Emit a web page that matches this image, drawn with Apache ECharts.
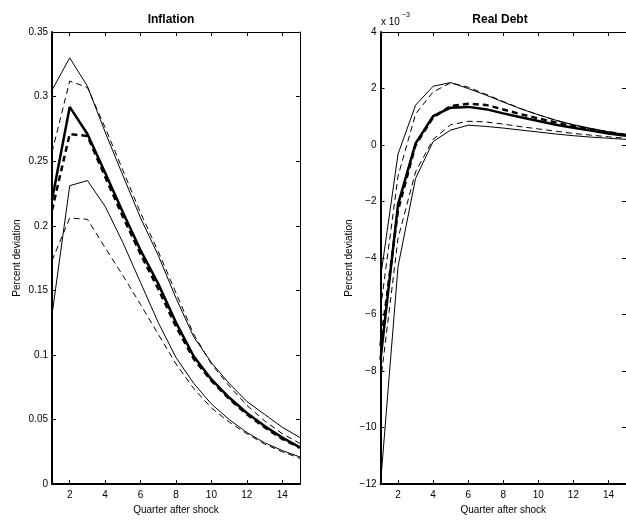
<!DOCTYPE html>
<html>
<head>
<meta charset="UTF-8">
<title>Inflation / Real Debt</title>
<script src="https://cdn.jsdelivr.net/npm/echarts@6/dist/echarts.min.js"></script>
<style>
  html, body { margin: 0; padding: 0; background: #fff; }
  #container { width: 626px; height: 520px; }
</style>
</head>
<body>
<div id="container"></div>
<script type="text/javascript">
// quarters after shock
var quarters = [1, 2, 3, 4, 5, 6, 7, 8, 9, 10, 11, 12, 13, 14, 15];
var xTicks = [2, 4, 6, 8, 10, 12, 14];

// Inflation, percent deviation
var inflMedian    = [0.220, 0.292, 0.271, 0.241, 0.2105, 0.181, 0.155, 0.125, 0.099, 0.081, 0.067, 0.055, 0.045, 0.036, 0.0285];
var inflMedianAlt = [0.212, 0.271, 0.2695, 0.238, 0.207, 0.178, 0.151, 0.122, 0.097, 0.080, 0.066, 0.054, 0.044, 0.035, 0.028];
var inflUpper     = [0.305, 0.330, 0.308, 0.2725, 0.239, 0.206, 0.177, 0.144, 0.114, 0.094, 0.078, 0.064, 0.054, 0.044, 0.036];
var inflUpperAlt  = [0.257, 0.312, 0.307, 0.276, 0.243, 0.210, 0.180, 0.148, 0.116, 0.093, 0.076, 0.061, 0.049, 0.039, 0.0315];
var inflLower     = [0.131, 0.231, 0.235, 0.215, 0.187, 0.156, 0.125, 0.098, 0.078, 0.062, 0.050, 0.040, 0.032, 0.026, 0.021];
var inflLowerAlt  = [0.173, 0.206, 0.205, 0.183, 0.1615, 0.139, 0.116, 0.093, 0.074, 0.059, 0.048, 0.039, 0.031, 0.025, 0.020];

// Real debt, percent deviation (units of 10^-3)
var debtMedian    = [-7.6, -2.1, 0.06, 1.02, 1.32, 1.35, 1.27, 1.12, 0.98, 0.85, 0.72, 0.61, 0.51, 0.41, 0.33];
var debtMedianAlt = [-7.1, -2.3, 0.0, 0.98, 1.38, 1.46, 1.42, 1.26, 1.09, 0.94, 0.80, 0.67, 0.55, 0.45, 0.36];
var debtUpper     = [-4.7, -0.32, 1.41, 2.08, 2.21, 2.0, 1.77, 1.52, 1.28, 1.07, 0.88, 0.72, 0.59, 0.47, 0.37];
var debtUpperAlt  = [-5.8, -1.1, 1.1, 1.88, 2.2, 2.05, 1.80, 1.54, 1.29, 1.07, 0.87, 0.71, 0.57, 0.46, 0.36];
var debtLower     = [-12.0, -4.3, -1.18, 0.12, 0.53, 0.70, 0.66, 0.60, 0.53, 0.46, 0.39, 0.33, 0.28, 0.24, 0.20];
var debtLowerAlt  = [-8.4, -3.3, -0.95, 0.2, 0.72, 0.84, 0.82, 0.74, 0.65, 0.57, 0.49, 0.41, 0.35, 0.29, 0.24];

var FONT = "'Liberation Sans', Arial, Helvetica, sans-serif";

function pairs(vals) {
	return quarters.map(function (q, i) { return [q, vals[i]]; });
}

function line(idx, vals, width, dashed) {
	return {
		type: 'line',
		xAxisIndex: idx * 2,
		yAxisIndex: idx * 2,
		data: pairs(vals),
		showSymbol: false,
		silent: true,
		lineStyle: { color: '#000', width: width, type: dashed ? [6, 4] : 'solid' }
	};
}

// bottom + top x axes, left + right y axes for each panel (box with inward ticks)
function xAxes(gi) {
	var base = {
		type: 'value', gridIndex: gi, min: 1, max: 15,
		splitLine: { show: false },
		axisTick: { inside: true, length: 4, customValues: xTicks, lineStyle: { color: '#000' } }
	};
	return [
		Object.assign({}, base, {
			position: 'bottom',
			name: 'Quarter after shock', nameLocation: 'middle', nameGap: 18,
			nameTextStyle: { color: '#000', fontSize: 10, fontFamily: FONT },
			axisLine: { onZero: false, lineStyle: { color: '#000', width: 2 } },
			axisLabel: { customValues: xTicks, color: '#000', fontSize: 10, fontFamily: FONT, margin: 6 }
		}),
		Object.assign({}, base, {
			position: 'top',
			axisLine: { onZero: false, lineStyle: { color: '#000', width: 1 } },
			axisLabel: { show: false }
		})
	];
}

function yAxes(gi, min, max, interval, nameGap, fmt) {
	var base = {
		type: 'value', gridIndex: gi, min: min, max: max, interval: interval,
		splitLine: { show: false },
		axisTick: { inside: true, length: 4, lineStyle: { color: '#000' } }
	};
	return [
		Object.assign({}, base, {
			position: 'left',
			name: 'Percent deviation', nameLocation: 'middle', nameGap: nameGap,
			nameTextStyle: { color: '#000', fontSize: 10, fontFamily: FONT },
			axisLine: { onZero: false, lineStyle: { color: '#000', width: 2 } },
			axisLabel: { color: '#000', fontSize: 10, fontFamily: FONT, margin: 4, formatter: fmt }
		}),
		Object.assign({}, base, {
			position: 'right',
			axisLine: { onZero: false, lineStyle: { color: '#000', width: 1 } },
			axisLabel: { show: false }
		})
	];
}

var dom = document.getElementById('container');
var myChart = echarts.init(dom, null, { renderer: 'canvas' });

var option = {
	backgroundColor: '#fff',
	animation: false,
	title: [
		{ text: 'Inflation', left: 171, top: 14, textAlign: 'center', padding: 0,
		  textStyle: { fontSize: 12, fontWeight: 'bold', color: '#000', fontFamily: FONT } },
		{ text: 'Real Debt', left: 500, top: 14, textAlign: 'center', padding: 0,
		  textStyle: { fontSize: 12, fontWeight: 'bold', color: '#000', fontFamily: FONT } }
	],
	graphic: [
		{ type: 'text', left: 381, top: 17, style: { text: 'x 10', font: '10px ' + FONT, fill: '#000' } },
		{ type: 'text', left: 402, top: 12, style: { text: '\u22123', font: '7px ' + FONT, fill: '#000' } }
	],
	grid: [
		{ left: 52, top: 32, width: 248, height: 455 },
		{ left: 380.5, top: 32, width: 250, height: 455 }
	],
	xAxis: xAxes(0).concat(xAxes(1)),
	yAxis: yAxes(0, 0, 0.35, 0.05, 30, function (v) { return String(+v.toFixed(2)); }).concat(
		yAxes(1, -12, 4, 2, 26, function (v) { return v < 0 ? '\u2212' + (-v) : String(v); })),
	series: [
		line(0, inflUpper, 1, false),
		line(0, inflLower, 1, false),
		line(0, inflUpperAlt, 1, true),
		line(0, inflLowerAlt, 1, true),
		line(0, inflMedianAlt, 2.5, true),
		line(0, inflMedian, 2.5, false),
		line(1, debtUpper, 1, false),
		line(1, debtLower, 1, false),
		line(1, debtUpperAlt, 1, true),
		line(1, debtLowerAlt, 1, true),
		line(1, debtMedianAlt, 2.5, true),
		line(1, debtMedian, 2.5, false)
	]
};
myChart.setOption(option);
</script>
</body>
</html>
